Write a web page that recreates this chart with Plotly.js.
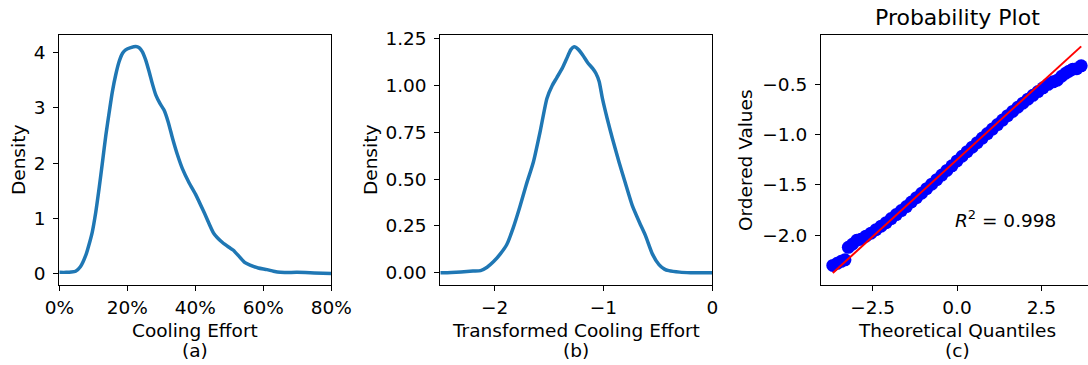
<!DOCTYPE html>
<html>
<head>
<meta charset="utf-8">
<script src="https://cdn.plot.ly/plotly-3.0.1.min.js"></script>
<style>html,body{margin:0;padding:0;overflow:hidden;background:#fff;}#chart{width:1100px;height:365px;}</style>
</head>
<body>
<div id="chart"></div>
<script>
// (a) KDE of cooling effort
const effortX = [0.0, 0.02, 0.035, 0.048, 0.062, 0.078, 0.09, 0.097, 0.107, 0.117, 0.127, 0.137, 0.147, 0.156, 0.166, 0.176, 0.186, 0.195, 0.21, 0.225, 0.235, 0.244, 0.254, 0.264, 0.274, 0.284, 0.296, 0.308, 0.32, 0.333, 0.347, 0.362, 0.382, 0.402, 0.43, 0.454, 0.48, 0.5, 0.512, 0.53, 0.545, 0.561, 0.585, 0.611, 0.63, 0.65, 0.7, 0.75, 0.8];
const effortDensity = [0.02, 0.02, 0.025, 0.04, 0.12, 0.33, 0.58, 0.75, 1.1, 1.54, 2.02, 2.51, 2.93, 3.29, 3.6, 3.84, 3.99, 4.05, 4.09, 4.11, 4.09, 4.02, 3.87, 3.66, 3.43, 3.23, 3.08, 2.96, 2.75, 2.45, 2.16, 1.9, 1.64, 1.42, 1.05, 0.73, 0.56, 0.47, 0.42, 0.3, 0.2, 0.15, 0.1, 0.07, 0.04, 0.02, 0.02, 0.01, 0.0];

// (b) KDE of transformed cooling effort
const transX = [-2.5, -2.4, -2.31, -2.2, -2.13, -2.07, -2.01, -1.95, -1.89, -1.83, -1.77, -1.71, -1.645, -1.58, -1.52, -1.47, -1.43, -1.38, -1.34, -1.3, -1.27, -1.23, -1.19, -1.145, -1.1, -1.07, -1.04, -1.01, -0.965, -0.92, -0.857, -0.8, -0.736, -0.67, -0.615, -0.55, -0.49, -0.44, -0.4, -0.3, -0.2, 0.0];
const transDensity = [0.0, 0.002, 0.005, 0.01, 0.012, 0.03, 0.06, 0.1, 0.15, 0.24, 0.35, 0.47, 0.59, 0.76, 0.93, 1.0, 1.04, 1.09, 1.14, 1.19, 1.205, 1.19, 1.16, 1.12, 1.09, 1.064, 1.02, 0.93, 0.82, 0.72, 0.59, 0.48, 0.36, 0.27, 0.2, 0.1, 0.044, 0.02, 0.012, 0.004, 0.001, 0.0];

// (c) probability plot
const theoQuantiles = [-3.68, -3.55, -3.43, -3.32, -3.22, -3.1, -2.97, -2.85, -2.7, -2.55, -2.4, -2.25, -2.1, -1.95, -1.8, -1.65, -1.5, -1.35, -1.2, -1.05, -0.9, -0.75, -0.6, -0.45, -0.3, -0.15, 0.0, 0.15, 0.3, 0.45, 0.6, 0.75, 0.9, 1.05, 1.2, 1.35, 1.5, 1.65, 1.8, 1.95, 2.1, 2.25, 2.4, 2.55, 2.7, 2.85, 2.97, 3.1, 3.22, 3.32, 3.43, 3.55, 3.68];
const orderedValues = [-2.30, -2.28, -2.26, -2.245, -2.12, -2.09, -2.05, -2.04, -2.01, -1.98, -1.945, -1.91, -1.875, -1.835, -1.795, -1.755, -1.715, -1.67, -1.627, -1.583, -1.538, -1.493, -1.448, -1.402, -1.356, -1.31, -1.262, -1.215, -1.17, -1.125, -1.08, -1.035, -0.99, -0.945, -0.90, -0.856, -0.812, -0.77, -0.728, -0.688, -0.648, -0.61, -0.572, -0.535, -0.50, -0.475, -0.46, -0.42, -0.39, -0.37, -0.35, -0.345, -0.316];
const fitX = [-3.68, 3.68];
const fitY = [-2.375, -0.123];
const rSquared = "0.998";

const W = 1100, H = 365;
const px = v => v / W;
const py = v => 1 - v / H;
const TOP = 35, BOT = 284.5;
const font = {family: 'DejaVu Sans', size: 18.5, color: '#000'};

const axisBase = {
  showline: true, linecolor: '#000', linewidth: 1, mirror: true,
  ticks: 'outside', ticklen: 5, tickwidth: 1, tickcolor: '#000',
  showgrid: false, zeroline: false, ticklabelstandoff: 4,
  tickfont: font, fixedrange: true
};
const xBase = Object.assign({}, axisBase, {ticklabelstandoff: 1});

const traces = [
  {x: effortX, y: effortDensity, xaxis: 'x', yaxis: 'y', mode: 'lines', line: {color: '#1f77b4', width: 3.5, shape: 'spline', smoothing: 0.6}, hoverinfo: 'skip'},
  {x: transX, y: transDensity, xaxis: 'x2', yaxis: 'y2', mode: 'lines', line: {color: '#1f77b4', width: 3.5, shape: 'spline', smoothing: 0.6}, hoverinfo: 'skip'},
  {x: theoQuantiles, y: orderedValues, xaxis: 'x3', yaxis: 'y3', mode: 'markers', marker: {color: '#0000ff', size: 13}, hoverinfo: 'skip'},
  {x: fitX, y: fitY, xaxis: 'x3', yaxis: 'y3', mode: 'lines', line: {color: '#ff0000', width: 2}, hoverinfo: 'skip'}
];

const layout = {
  width: W, height: H,
  margin: {l: 0, r: 0, t: 0, b: 0},
  paper_bgcolor: '#fff', plot_bgcolor: '#fff',
  showlegend: false,
  font: font,
  xaxis: Object.assign({}, xBase, {domain: [px(59.3), px(331.3)], range: [0, 0.8], dtick: 0.2, tick0: 0, tickformat: '.0%', anchor: 'y'}),
  yaxis: Object.assign({}, axisBase, {domain: [py(BOT), py(TOP)], range: [-0.2, 4.32], dtick: 1, tick0: 0, anchor: 'x'}),
  xaxis2: Object.assign({}, xBase, {domain: [px(440.3), px(712.3)], range: [-2.5, 0], dtick: 1, tick0: 0, anchor: 'y2'}),
  yaxis2: Object.assign({}, axisBase, {domain: [py(BOT), py(TOP)], range: [-0.062, 1.268], dtick: 0.25, tick0: 0, tickformat: '.2f', anchor: 'x2'}),
  xaxis3: Object.assign({}, xBase, {domain: [px(821), px(1093)], range: [-4.03, 4.03], dtick: 2.5, tick0: 0, tickformat: '.1f', anchor: 'y3'}),
  yaxis3: Object.assign({}, axisBase, {domain: [py(BOT), py(TOP)], range: [-2.49, -0.01], dtick: 0.5, tick0: 0, tickformat: '.1f', anchor: 'x3'}),
  annotations: [
    {text: 'Cooling Effort', x: px(195), y: py(330), xref: 'paper', yref: 'paper', xanchor: 'center', yanchor: 'middle', showarrow: false, font: font},
    {text: '(a)', x: px(195), y: py(350), xref: 'paper', yref: 'paper', xanchor: 'center', yanchor: 'middle', showarrow: false, font: font},
    {text: 'Density', x: px(18), y: py(160), xref: 'paper', yref: 'paper', xanchor: 'center', yanchor: 'middle', textangle: -90, showarrow: false, font: font},
    {text: 'Transformed Cooling Effort', x: px(576), y: py(330), xref: 'paper', yref: 'paper', xanchor: 'center', yanchor: 'middle', showarrow: false, font: font},
    {text: '(b)', x: px(576), y: py(350), xref: 'paper', yref: 'paper', xanchor: 'center', yanchor: 'middle', showarrow: false, font: font},
    {text: 'Density', x: px(370), y: py(160), xref: 'paper', yref: 'paper', xanchor: 'center', yanchor: 'middle', textangle: -90, showarrow: false, font: font},
    {text: 'Theoretical Quantiles', x: px(957), y: py(330), xref: 'paper', yref: 'paper', xanchor: 'center', yanchor: 'middle', showarrow: false, font: font},
    {text: '(c)', x: px(957), y: py(350), xref: 'paper', yref: 'paper', xanchor: 'center', yanchor: 'middle', showarrow: false, font: font},
    {text: 'Ordered Values', x: px(745), y: py(160), xref: 'paper', yref: 'paper', xanchor: 'center', yanchor: 'middle', textangle: -90, showarrow: false, font: font},
    {text: 'Probability Plot', x: px(957), y: py(17), xref: 'paper', yref: 'paper', xanchor: 'center', yanchor: 'middle', showarrow: false, font: {family: 'DejaVu Sans', size: 22, color: '#000'}},
    {text: '<i>R</i><sup>2</sup> = ' + rSquared, x: px(1005), y: py(219), xref: 'paper', yref: 'paper', xanchor: 'center', yanchor: 'middle', showarrow: false, font: font}
  ]
};

Plotly.newPlot('chart', traces, layout, {staticPlot: true, displayModeBar: false});
</script>
</body>
</html>
